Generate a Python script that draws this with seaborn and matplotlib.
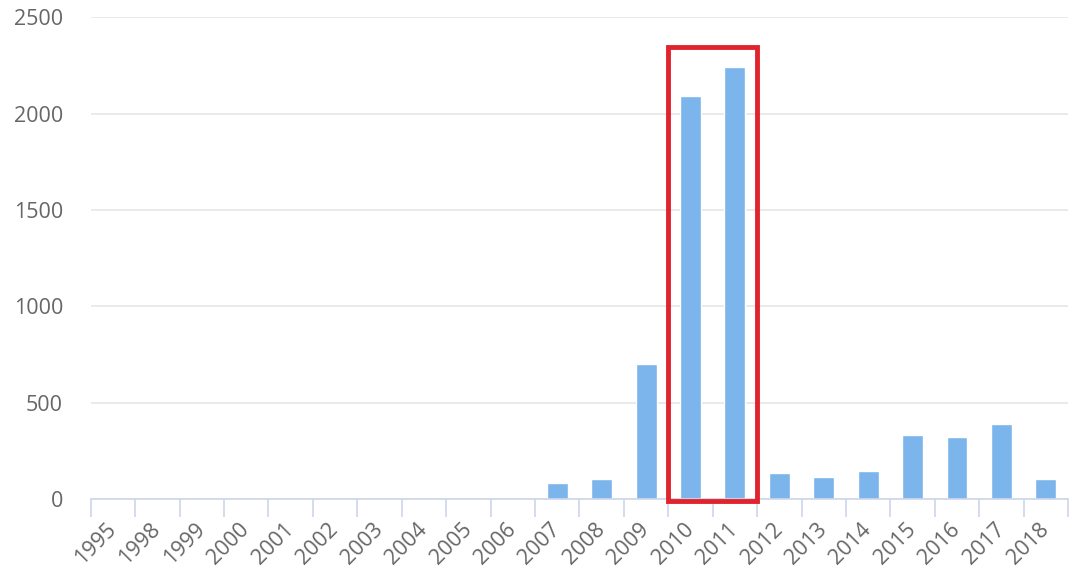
import matplotlib
matplotlib.use('Agg')
import matplotlib.pyplot as plt
import seaborn as sns
from matplotlib.patches import Rectangle

# Data
years = ['1995', '1998', '1999', '2000', '2001', '2002', '2003', '2004', '2005', '2006',
         '2007', '2008', '2009', '2010', '2011', '2012', '2013', '2014', '2015', '2016',
         '2017', '2018']
counts = [0, 0, 0, 0, 0, 0, 0, 0, 0, 0,
          83, 104, 700, 2090, 2240, 135, 114, 145, 332, 322,
          389, 104]
y_ticks = [0, 500, 1000, 1500, 2000, 2500]
highlight = ['2010', '2011']

sns.set_style('white')
plt.rcParams['font.family'] = ['Open Sans', 'DejaVu Sans']

fig = plt.figure(figsize=(10.8, 5.76), dpi=100)
ax = fig.add_axes([0.084, 0.134, 0.905, 0.836])

sns.barplot(x=years, y=counts, color='#7cb5ec', saturation=1, width=0.47, ax=ax)

ax.set_ylim(0, 2500)
ax.set_xlim(-0.5, len(years) - 0.5)
ax.set_yticks(y_ticks)
ax.set_yticklabels([str(v) for v in y_ticks], fontsize=15.5, color='#666666')
ax.tick_params(axis='y', length=0, pad=20)
ax.yaxis.grid(True, color='#e6e6e6', linewidth=1.2)
ax.set_axisbelow(True)

# category labels rotated, ticks at category boundaries
ax.set_xticks(range(len(years)))
ax.set_xticklabels(years, rotation=45, ha='right', va='center', rotation_mode='anchor',
                   fontsize=15.5, color='#666666')
ax.tick_params(axis='x', which='major', length=0, pad=20)
ax.set_xticks([i - 0.5 for i in range(len(years) + 1)], minor=True)
ax.tick_params(axis='x', which='minor', bottom=True, length=13, width=1.2, color='#ccd6eb')

for side in ['top', 'right', 'left']:
    ax.spines[side].set_visible(False)
ax.spines['bottom'].set_color('#ccd6eb')
ax.spines['bottom'].set_linewidth(1.2)

# red highlight box around 2010-2011
i0 = years.index(highlight[0])
i1 = years.index(highlight[-1])
box = Rectangle((i0 - 0.5, -10), i1 - i0 + 1, 2355, fill=False,
                edgecolor='#e0242e', linewidth=3.5, clip_on=False, zorder=5)
ax.add_patch(box)

ax.set_xlabel('')
ax.set_ylabel('')
fig.savefig('out.png', dpi=100)
